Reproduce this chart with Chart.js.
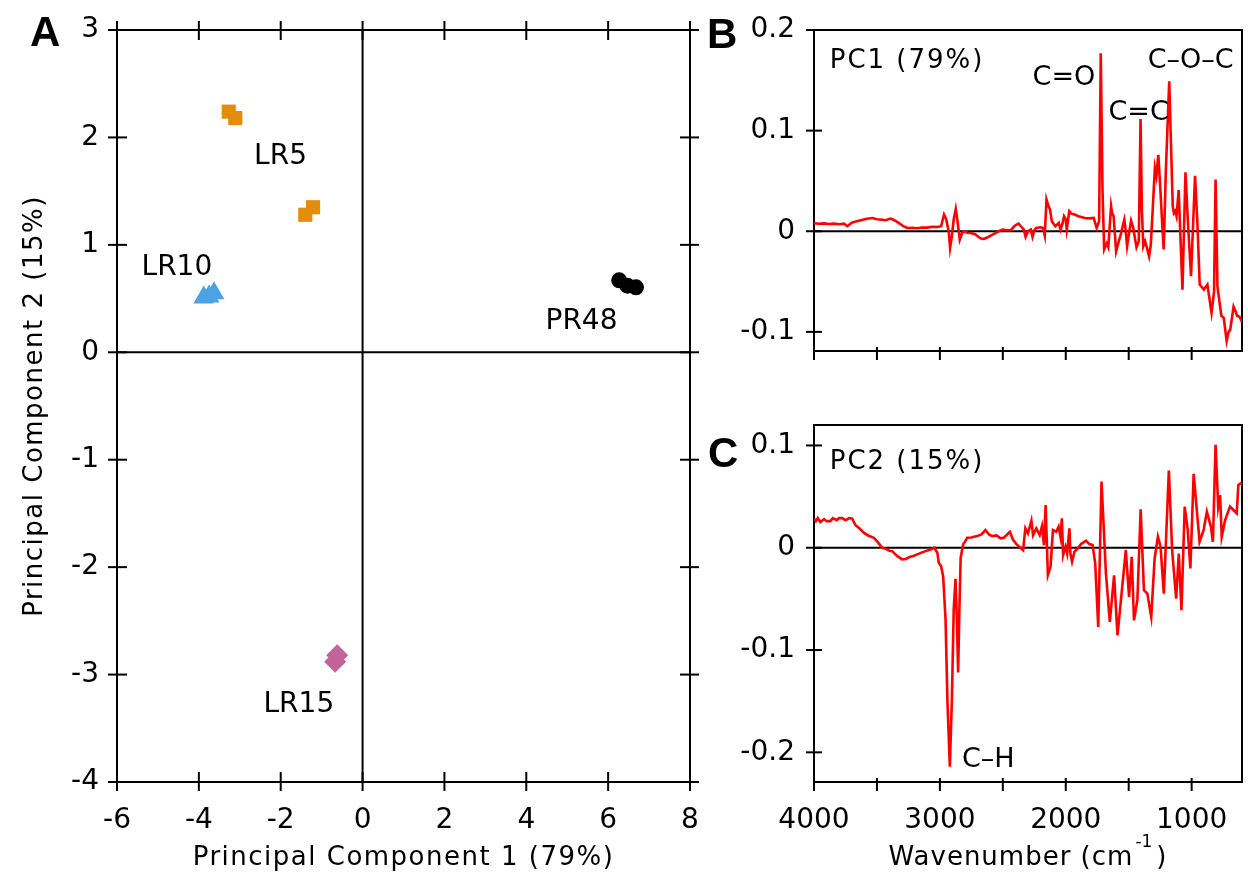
<!DOCTYPE html>
<html>
<head>
<meta charset="utf-8">
<script src="https://cdn.jsdelivr.net/npm/chart.js@4.4.1/dist/chart.umd.min.js"></script>
<style>
  html, body { margin: 0; background: #fff; }
  #fig { position: relative; width: 1248px; height: 873px; }
  #fig canvas { position: absolute; }
</style>
</head>
<body>
<div id="fig">
  <canvas id="scores" width="705" height="873" style="left:0;top:0"></canvas>
  <canvas id="pc1" width="548" height="400" style="left:700px;top:0"></canvas>
  <canvas id="pc2" width="548" height="473" style="left:700px;top:400px"></canvas>
</div>
<script>
// ---- PCA scores ----
const scoreGroups = ['LR5', 'LR10', 'PR48', 'LR15'];
const lr5Pc1 = [-3.27, -3.11, -1.40, -1.21];
const lr5Pc2 = [2.24, 2.18, 1.28, 1.35];
const lr10Pc1 = [-3.88, -3.75, -3.63];
const lr10Pc2 = [0.51, 0.52, 0.55];
const pr48Pc1 = [6.27, 6.47, 6.68];
const pr48Pc2 = [0.67, 0.62, 0.605];
const lr15Pc1 = [-0.62, -0.67];
const lr15Pc2 = [-2.82, -2.88];
const scoreXTicks = [-6, -4, -2, 0, 2, 4, 6, 8];
const scoreYTicks = [-4, -3, -2, -1, 0, 1, 2, 3];

// ---- loadings vs wavenumber ----
const pc1Wn = [
  4000, 3960, 3920, 3880, 3840, 3800, 3762, 3735, 3700, 3660,
  3620, 3580, 3536, 3500, 3460, 3430, 3391, 3370, 3330, 3290,
  3258, 3220, 3180, 3140, 3100, 3060, 3020, 2990, 2967, 2950,
  2930, 2919, 2905, 2890, 2874, 2860, 2842, 2825, 2808, 2780,
  2755, 2720, 2690, 2670, 2649, 2620, 2582, 2540, 2503, 2470,
  2437, 2400, 2375, 2350, 2333, 2319, 2300, 2278, 2264, 2250,
  2236, 2200, 2181, 2167, 2153, 2140, 2125, 2111, 2083, 2055,
  2042, 2025, 2014, 2000, 1992, 1972, 1955, 1930, 1900, 1870,
  1847, 1810, 1778, 1755, 1735, 1722, 1708, 1695, 1675, 1662,
  1640, 1632, 1620, 1600, 1590, 1565, 1535, 1525, 1513, 1495,
  1481, 1465, 1438, 1420, 1406, 1395, 1384, 1370, 1356, 1338,
  1325, 1310, 1292, 1280, 1265, 1250, 1235, 1222, 1205, 1178,
  1165, 1150, 1141, 1130, 1120, 1103, 1073, 1049, 1030, 1005,
  973, 955, 936, 903, 875, 842, 822, 810, 795, 764,
  745, 722, 706, 694, 667, 650, 639, 620, 600
];
const pc1Load = [
  0.0080, 0.0075, 0.0078, 0.0072, 0.0076, 0.0070, 0.0076, 0.0050, 0.0085, 0.0100,
  0.0112, 0.0125, 0.0132, 0.0120, 0.0115, 0.0110, 0.0126, 0.0115, 0.0085, 0.0050,
  0.0033, 0.0035, 0.0030, 0.0038, 0.0036, 0.0045, 0.0043, 0.0050, 0.0166, 0.0120,
  0.0000, -0.0166, -0.0050, 0.0120, 0.0222, 0.0100, -0.0083, -0.0020, 0.0000, -0.0015,
  -0.0017, -0.0030, -0.0060, -0.0075, -0.0076, -0.0060, -0.0033, -0.0005, 0.0017, 0.0010,
  0.0010, 0.0060, 0.0076, 0.0040, 0.0017, -0.0056, 0.0000, 0.0017, -0.0056, 0.0010,
  0.0033, 0.0040, 0.0033, -0.0043, 0.0315, 0.0260, 0.0215, 0.0100, 0.0050, 0.0083,
  0.0017, 0.0080, 0.0149, 0.0120, 0.0017, 0.0199, 0.0175, 0.0166, 0.0150, 0.0140,
  0.0132, 0.0128, 0.0132, 0.0033, 0.0100, 0.1770, 0.0400, -0.0180, -0.0120, -0.0160,
  0.0248, 0.0180, 0.0150, -0.0200, -0.0150, -0.0040, 0.0116, 0.0020, -0.0149, 0.0000,
  0.0105, 0.0040, -0.0160, -0.0100, 0.1116, 0.0200, -0.0149, -0.0100, -0.0160, -0.0249,
  -0.0140, 0.0200, 0.0630, 0.0550, 0.0760, 0.0450, 0.0100, -0.0180, 0.0600, 0.1490,
  0.0900, 0.0250, 0.0180, 0.0200, 0.0150, 0.0410, -0.0580, 0.0586, 0.0100, -0.0447,
  0.0550, 0.0100, -0.0530, -0.0580, -0.0530, -0.0810, -0.0600, 0.0514, -0.0550, -0.0840,
  -0.0860, -0.1090, -0.1000, -0.0980, -0.0750, -0.0800, -0.0840, -0.0850, -0.0900
];
const pc2Wn = [
  4000, 3985, 3970, 3950, 3920, 3900, 3870, 3850, 3820, 3800,
  3777, 3750, 3720, 3697, 3670, 3640, 3605, 3570, 3525, 3490,
  3459, 3430, 3400, 3379, 3340, 3300, 3270, 3240, 3210, 3180,
  3150, 3114, 3080, 3043, 3020, 3009, 2990, 2974, 2955, 2940,
  2921, 2905, 2890, 2876, 2865, 2855, 2845, 2835, 2815, 2800,
  2783, 2750, 2704, 2670, 2638, 2610, 2585, 2550, 2518, 2492,
  2444, 2420, 2392, 2370, 2339, 2321, 2300, 2273, 2260, 2234,
  2207, 2189, 2173, 2160, 2142, 2121, 2102, 2076, 2057, 2042,
  2031, 2021, 2002, 1989, 1971, 1963, 1950, 1931, 1905, 1879,
  1839, 1813, 1787, 1766, 1742, 1716, 1681, 1650, 1616, 1589,
  1523, 1497, 1476, 1458, 1431, 1405, 1379, 1352, 1321, 1294,
  1268, 1247, 1221, 1181, 1155, 1123, 1102, 1081, 1055, 1031,
  1010, 984, 937, 905, 879, 847, 831, 810, 789, 774,
  761, 734, 695, 668, 642, 629, 610, 600
];
const pc2Load = [
  0.0284, 0.0260, 0.0290, 0.0250, 0.0280, 0.0260, 0.0260, 0.0290, 0.0270, 0.0290,
  0.0290, 0.0270, 0.0290, 0.0284, 0.0220, 0.0190, 0.0147, 0.0120, 0.0098, 0.0050,
  0.0000, -0.0010, -0.0030, -0.0033, -0.0080, -0.0114, -0.0110, -0.0090, -0.0080, -0.0065,
  -0.0050, -0.0033, -0.0020, 0.0000, -0.0050, -0.0147, -0.0180, -0.0280, -0.0700, -0.1500,
  -0.2140, -0.1500, -0.0600, -0.0304, -0.0700, -0.1220, -0.0600, -0.0100, 0.0033, 0.0060,
  0.0098, 0.0100, 0.0114, 0.0130, 0.0173, 0.0130, 0.0114, 0.0120, 0.0092, 0.0098,
  0.0155, 0.0080, 0.0036, 0.0010, -0.0023, 0.0190, 0.0140, 0.0265, 0.0124, 0.0190,
  0.0124, 0.0210, 0.0026, 0.0418, -0.0268, -0.0186, 0.0173, 0.0157, 0.0206, 0.0108,
  0.0288, -0.0072, 0.0010, -0.0056, 0.0190, -0.0056, -0.0137, -0.0039, -0.0007, 0.0036,
  0.0069, 0.0036, 0.0026, -0.0154, -0.0775, 0.0647, -0.0250, -0.0725, -0.0270, -0.0856,
  -0.0023, -0.0480, -0.0088, -0.0710, -0.0510, 0.0376, -0.0415, -0.0448, -0.0676, -0.0105,
  0.0108, 0.0010, -0.0448, 0.0755, -0.0023, -0.0497, -0.0056, -0.0611, 0.0402, 0.0173,
  -0.0203, 0.0722, 0.0059, 0.0173, 0.0353, 0.0206, 0.0059, 0.1006, 0.0402, 0.0516,
  0.0108, 0.0271, 0.0402, 0.0369, 0.0337, 0.0614, 0.0630, 0.0620
];
const wnTicks = [4000, 3500, 3000, 2500, 2000, 1500, 1000];
const wnTickLabels = [4000, 3000, 2000, 1000];
const pc1Ticks = [-0.1, 0, 0.1, 0.2];
const pc2Ticks = [-0.2, -0.1, 0, 0.1];

// label anchors, in data units
const groupLabelAt = [[-2.65, 1.755], [-5.40, 0.723], [4.47, 0.218], [-2.42, -3.35]];

const FONT = "'DejaVu Sans', sans-serif";
const LETTER_FONT = "'Liberation Sans', Arial, sans-serif";
Chart.defaults.font.family = FONT;
Chart.defaults.font.size = 28;
Chart.defaults.color = '#000';
Chart.defaults.animation = false;
Chart.defaults.plugins.legend.display = false;
Chart.defaults.plugins.tooltip.enabled = false;

const pts = (xs, ys) => xs.map((v, i) => ({ x: v, y: ys[i] }));

// fixed-size axis boxes so the plot area is set by layout padding
function axis(min, max, vals, size, ticks, extra) {
  return Object.assign({
    type: 'linear', min, max,
    grid: { display: false, drawTicks: false },
    border: { display: false },
    afterFit: s => {
      if (s.isHorizontal()) s.height = size; else s.width = size;
      s.paddingLeft = s.paddingRight = s.paddingTop = s.paddingBottom = 0;
    },
    afterBuildTicks: s => { s.ticks = vals.map(v => ({ value: v })); },
    ticks: Object.assign({ callback: v => String(v), autoSkip: false, maxRotation: 0, minRotation: 0 }, ticks)
  }, extra);
}

function line(ctx, x1, y1, x2, y2) {
  ctx.beginPath();
  ctx.moveTo(x1, y1);
  ctx.lineTo(x2, y2);
  ctx.stroke();
}

function put(ctx, text, x, y, size, o = {}) {
  ctx.save();
  ctx.font = (o.bold ? 'bold ' : '') + size + 'px ' + (o.family || FONT);
  ctx.letterSpacing = (o.spacing || 0) + 'px';
  ctx.textAlign = o.align || 'left';
  ctx.textBaseline = 'alphabetic';
  ctx.fillStyle = '#000';
  ctx.fillText(text, x, y);
  ctx.restore();
}

// box, zero lines and tick marks that cross the axis
const frame = {
  id: 'frame',
  beforeDatasetsDraw(chart, args, o) {
    const { ctx, chartArea: a, scales: { x, y } } = chart;
    ctx.save();
    ctx.strokeStyle = '#000';
    ctx.lineWidth = 2;
    ctx.strokeRect(a.left, a.top, a.right - a.left, a.bottom - a.top);
    const y0 = y.getPixelForValue(0);
    line(ctx, a.left, y0, a.right, y0);
    if (o.zeroX) {
      const x0 = x.getPixelForValue(0);
      line(ctx, x0, a.top, x0, a.bottom);
    }
    x.ticks.forEach(t => {
      const p = x.getPixelForValue(t.value);
      line(ctx, p, a.bottom - o.xIn, p, a.bottom + o.xOut);
      if (o.mirror) line(ctx, p, a.top + o.xIn, p, a.top - o.xOut);
    });
    y.ticks.forEach(t => {
      const p = y.getPixelForValue(t.value);
      line(ctx, a.left - o.yOut, p, a.left + o.yIn, p);
      if (o.mirror) line(ctx, a.right + o.yOut, p, a.right - o.yIn, p);
    });
    ctx.restore();
  }
};

new Chart(document.getElementById('scores'), {
  type: 'scatter',
  data: {
    datasets: [
      { data: pts(lr5Pc1, lr5Pc2), pointStyle: 'rect', pointRadius: 10, backgroundColor: '#e28d0c' },
      { data: pts(lr10Pc1, lr10Pc2), pointStyle: 'triangle', pointRadius: 12, backgroundColor: '#4ba3e3' },
      { data: pts(pr48Pc1, pr48Pc2), pointStyle: 'circle', pointRadius: 8, backgroundColor: '#000' },
      { data: pts(lr15Pc1, lr15Pc2), pointStyle: 'rectRot', pointRadius: 11, backgroundColor: '#c0649a' }
    ].map(d => Object.assign(d, { borderWidth: 0, pointBorderWidth: 0 }))
  },
  options: {
    responsive: false,
    devicePixelRatio: 1,
    layout: { padding: { left: 7, top: 30, right: 15, bottom: 31 } },
    scales: {
      x: axis(-6, 8, scoreXTicks, 60, { padding: 22 }),
      y: axis(-4, 3, scoreYTicks, 110, { padding: 18 })
    },
    plugins: { frame: { xIn: 10, xOut: 9, yIn: 10, yOut: 9, mirror: true, zeroX: true } }
  },
  plugins: [frame, {
    id: 'scoreText',
    afterDraw(chart) {
      const { ctx, chartArea: a, scales: { x, y } } = chart;
      put(ctx, 'A', 30, 46, 42, { bold: true, family: LETTER_FONT });
      scoreGroups.forEach((g, i) => {
        put(ctx, g, x.getPixelForValue(groupLabelAt[i][0]), y.getPixelForValue(groupLabelAt[i][1]), 28);
      });
      put(ctx, 'Principal Component 1 (79%)', (a.left + a.right) / 2, 865, 26, { align: 'center', spacing: 1.5 });
      ctx.save();
      ctx.translate(42, (a.top + a.bottom) / 2);
      ctx.rotate(-Math.PI / 2);
      put(ctx, 'Principal Component 2 (15%)', 0, 0, 26, { align: 'center', spacing: 1.5 });
      ctx.restore();
    }
  }]
});

function loadingChart(id, wn, load, yMin, yMax, yTicks, padding, showX, draw) {
  return new Chart(document.getElementById(id), {
    type: 'line',
    data: {
      datasets: [{
        data: pts(wn, load),
        borderColor: '#ff0000',
        borderWidth: 2.6,
        pointRadius: 0,
        tension: 0
      }]
    },
    options: {
      responsive: false,
      devicePixelRatio: 1,
      layout: { padding },
      scales: {
        x: axis(600, 4000, wnTicks, showX ? 60 : 0, {
          display: showX,
          padding: 22,
          callback: v => (wnTickLabels.includes(v) ? String(v) : '')
        }, { reverse: true }),
        y: axis(yMin, yMax, yTicks, 100, { padding: 19 })
      },
      plugins: { frame: { xIn: 4, xOut: 9, yIn: 8, yOut: 8 } }
    },
    plugins: [frame, { id: id + 'Text', afterDraw: draw }]
  });
}

loadingChart('pc1', pc1Wn, pc1Load, -0.119, 0.2, pc1Ticks,
  { left: 14, top: 30, right: 6, bottom: 49 }, false, chart => {
    const { ctx, scales: { x, y } } = chart;
    put(ctx, 'B', 7, 48, 42, { bold: true, family: LETTER_FONT });
    put(ctx, 'PC1 (79%)', x.getPixelForValue(3875), y.getPixelForValue(0.1626), 26, { spacing: 2 });
    put(ctx, 'C=O', x.getPixelForValue(2264), y.getPixelForValue(0.1457), 27);
    put(ctx, 'C=C', x.getPixelForValue(1661), y.getPixelForValue(0.1109), 27);
    put(ctx, 'C\u2013O\u2013C', x.getPixelForValue(666), y.getPixelForValue(0.1623), 27, { align: 'right' });
  });

loadingChart('pc2', pc2Wn, pc2Load, -0.229, 0.12, pc2Ticks,
  { left: 14, top: 25, right: 6, bottom: 31 }, true, chart => {
    const { ctx, chartArea: a, scales: { x, y } } = chart;
    put(ctx, 'C', 8, 67, 42, { bold: true, family: LETTER_FONT });
    put(ctx, 'PC2 (15%)', x.getPixelForValue(3875), y.getPixelForValue(0.0768), 26, { spacing: 2 });
    put(ctx, 'C\u2013H', x.getPixelForValue(2825), y.getPixelForValue(-0.214), 27);
    // axis title with superscript exponent
    ctx.save();
    ctx.font = '26px ' + FONT;
    ctx.letterSpacing = '1px';
    const main = 'Wavenumber (cm';
    const wMain = ctx.measureText(main).width;
    const wClose = ctx.measureText(')').width;
    ctx.font = '17px ' + FONT;
    const wSup = ctx.measureText('-1').width;
    ctx.restore();
    const total = wMain + wSup + 4 + wClose;
    const left = (a.left + a.right) / 2 - total / 2;
    put(ctx, main, left, 465, 26, { spacing: 1 });
    put(ctx, '-1', left + wMain + 2, 447, 17);
    put(ctx, ')', left + wMain + wSup + 4, 465, 26, { spacing: 1 });
  });
</script>
</body>
</html>
